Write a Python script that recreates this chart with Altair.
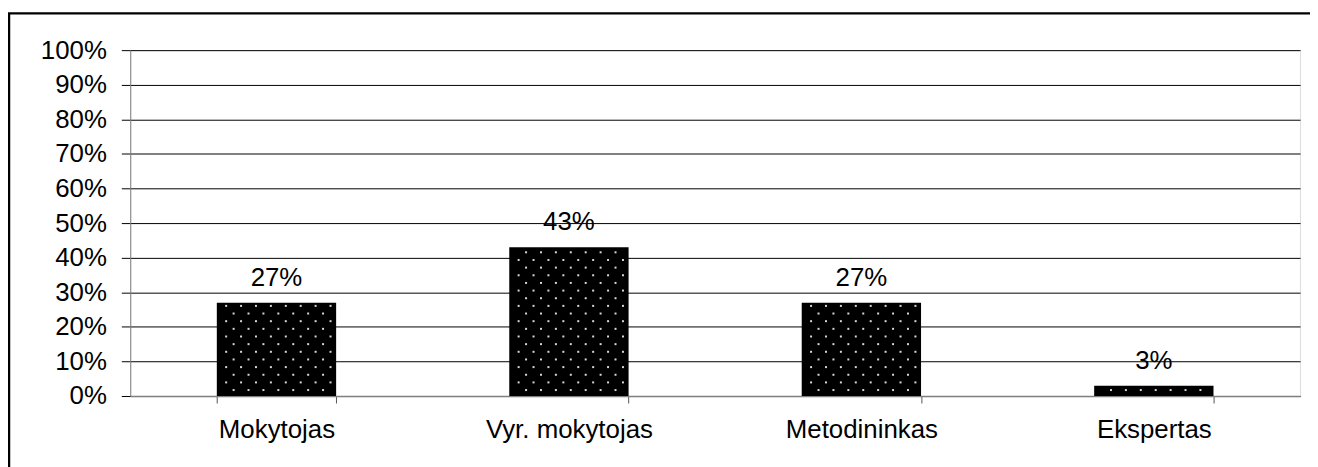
import altair as alt
import pandas as pd

categories = ["Mokytojas", "Vyr. mokytojas", "Metodininkas", "Ekspertas"]
values = [0.27, 0.43, 0.27, 0.03]
labels = ["27%", "43%", "27%", "3%"]

W, H = 1177, 348
STEP = W / len(categories)
BARW = 120
FONT = "Liberation Sans"
FS = 26

df = pd.DataFrame({"cat": categories, "val": values, "lab": labels})

# dotted texture inside the bars (decoration only)
rows = []
for i, (c, v) in enumerate(zip(categories, values)):
    k = 0
    while True:
        px = 6 + 7.7 * k
        if px > v * H - 2:
            break
        subs = range(4, 32, 4) if k % 2 == 0 else range(2, 32, 4)
        for s in subs:
            off = 1.875 + 3.75 * s
            rows.append({"xx": i + 0.5 + (off - BARW / 2) / STEP, "yy": px / H})
        k += 1
dots = pd.DataFrame(rows)

xscale = alt.Scale(domain=categories, paddingInner=0.592, paddingOuter=0.296)
yscale = alt.Scale(domain=[0, 1])
yaxis = alt.Axis(title=None, format=".0%", values=[i / 10 for i in range(11)],
                 grid=True, gridColor="black", gridWidth=1, labelOverlap=False,
                 tickSize=9, tickColor="black", domainColor="#808080",
                 labelFont=FONT, labelFontSize=FS, labelColor="black",
                 labelPadding=15)
xaxis = alt.Axis(title=None, labelAngle=0, tickBand="extent",
                 tickSize=7, tickColor="#555555", domainColor="#808080",
                 domainWidth=1.5, labelFont=FONT, labelFontSize=FS,
                 labelColor="black", labelPadding=14, grid=False)

base = alt.Chart(df)

bars = base.mark_bar(color="black").encode(
    x=alt.X("cat:N", scale=xscale, sort=categories, axis=xaxis),
    y=alt.Y("val:Q", scale=yscale, axis=yaxis),
)

text = base.mark_text(font=FONT, fontSize=FS, color="black", baseline="alphabetic", dy=-17).encode(
    x=alt.X("cat:N", scale=xscale, sort=categories, axis=xaxis),
    y=alt.Y("val:Q", scale=yscale, axis=yaxis),
    text="lab:N",
)

main = alt.layer(bars, text)

dot_layer = alt.Chart(dots).mark_square(color="#d8d8d8", size=4, opacity=1).encode(
    x=alt.X("xx:Q", scale=alt.Scale(domain=[0, len(categories)], nice=False, zero=False), axis=None),
    y=alt.Y("yy:Q", scale=yscale, axis=yaxis),
)

frame = alt.Chart(pd.DataFrame({"a": [1]})).mark_rect(
    filled=False, stroke="black", strokeWidth=2.5
).encode(
    x=alt.value(-122), x2=alt.value(W + 200),
    y=alt.value(-37), y2=alt.value(H + 200),
)

chart = alt.layer(frame, main, dot_layer).resolve_scale(x="independent").properties(
    width=W, height=H,
    autosize="none",
    padding={"left": 123, "top": 41, "right": 10, "bottom": 70},
).configure_view(stroke=None).configure(background="white")

chart.save("out.html", embed_options={"renderer": "svg", "actions": False})
